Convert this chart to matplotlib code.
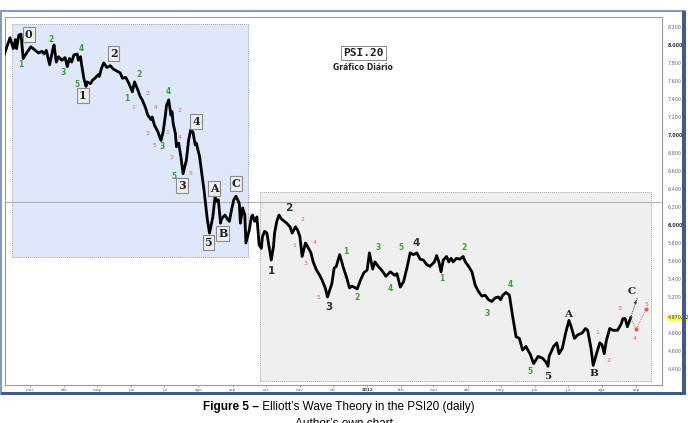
import matplotlib
matplotlib.use("Agg")
import matplotlib.pyplot as plt
import matplotlib.dates as mdates
from matplotlib.patches import Rectangle
import numpy as np
import pandas as pd

# PSI20 fecho diario
dates = [
    "2011-02-06", "2011-02-11", "2011-02-14", "2011-02-16", "2011-02-17", "2011-02-19", "2011-02-21", "2011-02-23", "2011-02-26", "2011-03-02",
    "2011-03-06", "2011-03-09", "2011-03-12", "2011-03-14", "2011-03-16", "2011-03-19", "2011-03-22", "2011-03-23", "2011-03-25", "2011-03-27",
    "2011-03-30", "2011-04-02", "2011-04-04", "2011-04-06", "2011-04-08", "2011-04-10", "2011-04-13", "2011-04-14", "2011-04-16", "2011-04-17",
    "2011-04-19", "2011-04-21", "2011-04-22", "2011-04-25", "2011-04-27", "2011-04-29", "2011-05-02", "2011-05-03", "2011-05-05", "2011-05-07",
    "2011-05-10", "2011-05-13", "2011-05-16", "2011-05-19", "2011-05-22", "2011-05-24", "2011-05-27", "2011-05-30", "2011-06-02", "2011-06-04",
    "2011-06-07", "2011-06-09", "2011-06-11", "2011-06-14", "2011-06-16", "2011-06-19", "2011-06-20", "2011-06-22", "2011-06-25", "2011-06-28",
    "2011-06-30", "2011-07-02", "2011-07-03", "2011-07-05", "2011-07-07", "2011-07-08", "2011-07-09", "2011-07-11", "2011-07-12", "2011-07-14",
    "2011-07-16", "2011-07-18", "2011-07-21", "2011-07-23", "2011-07-25", "2011-07-27", "2011-07-29", "2011-07-30", "2011-08-02", "2011-08-04",
    "2011-08-06", "2011-08-09", "2011-08-11", "2011-08-14", "2011-08-16", "2011-08-18", "2011-08-19", "2011-08-21", "2011-08-22", "2011-08-25",
    "2011-08-27", "2011-08-29", "2011-08-31", "2011-09-02", "2011-09-04", "2011-09-07", "2011-09-08", "2011-09-10", "2011-09-12", "2011-09-13",
    "2011-09-16", "2011-09-18", "2011-09-19", "2011-09-21", "2011-09-23", "2011-09-25", "2011-09-27", "2011-09-28", "2011-09-30", "2011-10-02",
    "2011-10-06", "2011-10-08", "2011-10-09", "2011-10-11", "2011-10-13", "2011-10-15", "2011-10-18", "2011-10-20", "2011-10-23", "2011-10-25",
    "2011-10-28", "2011-10-30", "2011-11-01", "2011-11-03", "2011-11-06", "2011-11-08", "2011-11-11", "2011-11-13", "2011-11-16", "2011-11-19",
    "2011-11-21", "2011-11-24", "2011-11-26", "2011-11-30", "2011-12-02", "2011-12-04", "2011-12-07", "2011-12-09", "2011-12-10", "2011-12-13",
    "2011-12-16", "2011-12-18", "2011-12-20", "2011-12-23", "2011-12-26", "2011-12-29", "2012-01-01", "2012-01-03", "2012-01-06", "2012-01-08",
    "2012-01-11", "2012-01-14", "2012-01-18", "2012-01-22", "2012-01-26", "2012-01-28", "2012-01-31", "2012-02-03", "2012-02-06", "2012-02-09",
    "2012-02-12", "2012-02-15", "2012-02-18", "2012-02-21", "2012-02-24", "2012-02-27", "2012-03-02", "2012-03-04", "2012-03-06", "2012-03-08",
    "2012-03-10", "2012-03-13", "2012-03-15", "2012-03-17", "2012-03-19", "2012-03-22", "2012-03-25", "2012-03-28", "2012-03-30", "2012-04-02",
    "2012-04-05", "2012-04-08", "2012-04-11", "2012-04-14", "2012-04-17", "2012-04-20", "2012-04-23", "2012-04-26", "2012-04-29", "2012-05-01",
    "2012-05-03", "2012-05-06", "2012-05-09", "2012-05-12", "2012-05-15", "2012-05-18", "2012-05-21", "2012-05-24", "2012-05-28", "2012-05-31",
    "2012-06-04", "2012-06-08", "2012-06-11", "2012-06-13", "2012-06-14", "2012-06-18", "2012-06-21", "2012-06-23", "2012-06-26", "2012-06-29",
    "2012-07-02", "2012-07-04", "2012-07-07", "2012-07-10", "2012-07-14", "2012-07-17", "2012-07-19", "2012-07-22", "2012-07-24", "2012-07-27",
    "2012-07-30", "2012-08-01", "2012-08-03", "2012-08-05", "2012-08-08", "2012-08-11", "2012-08-15", "2012-08-18", "2012-08-20", "2012-08-22",
    "2012-08-24", "2012-08-27",
]
closes = [
    7900, 8080, 7960, 8060, 7960, 8110, 8120, 7850, 7910, 7980,
    7940, 7910, 7930, 7900, 7940, 7780, 7960, 8000, 7810, 7870,
    7830, 7860, 7760, 7850, 7810, 7890, 7900, 7830, 7870, 7780,
    7630, 7540, 7590, 7570, 7610, 7630, 7670, 7650, 7740, 7800,
    7750, 7770, 7730, 7710, 7690, 7630, 7640, 7570, 7480, 7590,
    7500, 7430, 7390, 7300, 7220, 7170, 7200, 7110, 7040, 6940,
    7040, 7220, 7330, 7390, 7220, 7260, 7130, 7020, 6870, 6910,
    6760, 6570, 6720, 6940, 7060, 7030, 6890, 6910, 6760, 6570,
    6390, 6060, 5910, 6090, 6310, 6260, 6280, 6020, 6070, 6110,
    6070, 6040, 6170, 6280, 6320, 6240, 6020, 6190, 6110, 5800,
    5940, 6090, 6110, 6040, 6090, 5780, 5740, 5870, 5930, 5910,
    5610, 5760, 5910, 6040, 6110, 6070, 6040, 6020, 5980, 5910,
    5980, 5940, 5870, 5650, 5800, 5760, 5690, 5590, 5500, 5440,
    5390, 5300, 5200, 5350, 5520, 5540, 5670, 5590, 5540, 5430,
    5300, 5320, 5310, 5290, 5390, 5470, 5500, 5690, 5510, 5590,
    5540, 5500, 5430, 5480, 5440, 5460, 5310, 5370, 5520, 5690,
    5670, 5690, 5620, 5610, 5560, 5540, 5590, 5660, 5590, 5480,
    5610, 5650, 5590, 5630, 5590, 5630, 5620, 5650, 5590, 5540,
    5480, 5330, 5260, 5210, 5220, 5170, 5150, 5190, 5200, 5170,
    5220, 5250, 5220, 4980, 4760, 4740, 4610, 4650, 4560, 4460,
    4540, 4520, 4480, 4430, 4540, 4650, 4690, 4570, 4630, 4800,
    4940, 4870, 4740, 4780, 4800, 4850, 4830, 4630, 4440, 4570,
    4690, 4670, 4570, 4720, 4850, 4830, 4830, 4890, 4960, 4960,
    4870, 4970,
]

# cenarios projectados no fim
proj_c_dates = ["2012-08-27", "2012-09-02"]
proj_c_vals = [4970, 5190]
proj_alt_dates = ["2012-08-27", "2012-09-01", "2012-09-10"]
proj_alt_vals = [4970, 4840, 5070]

month_labels = ["mar", "abr", "may", "jun", "jul", "ago", "sep", "oct", "nov", "dic",
                "2012", "feb", "mar", "abr", "may", "jun", "jul", "ago", "sep"]
yticks = list(range(4400, 8201, 200))
last_label = "4.970,52"
last_value = 4970
cross_level = 6255

# ondas de grau maior (com caixa)
waves_box = [("0", "2011-02-28", 8120), ("1", "2011-04-18", 7440), ("2", "2011-05-16", 7900),
             ("3", "2011-07-17", 6440), ("4", "2011-07-30", 7150), ("5", "2011-08-10", 5800),
             ("A", "2011-08-15", 6410), ("B", "2011-08-23", 5910), ("C", "2011-09-04", 6460)]
# ondas principais na segunda zona
waves_main = [("1", "2011-10-06", 5490), ("2", "2011-10-22", 6190), ("3", "2011-11-27", 5090),
              ("4", "2012-02-14", 5800)]
waves_main_serif = [("5", "2012-06-13", 4320), ("A", "2012-07-01", 5010), ("B", "2012-07-25", 4350),
                    ("C", "2012-08-28", 5260)]
waves_green = [("1", "2011-02-21", 7780), ("2", "2011-03-20", 8060), ("3", "2011-03-31", 7690),
               ("4", "2011-04-17", 7960), ("5", "2011-04-13", 7560), ("1", "2011-05-28", 7410),
               ("2", "2011-06-08", 7670), ("3", "2011-06-29", 6870), ("4", "2011-07-05", 7480),
               ("5", "2011-07-10", 6540),
               ("1", "2011-12-13", 5710), ("2", "2011-12-23", 5190), ("3", "2012-01-11", 5750),
               ("4", "2012-01-22", 5290), ("5", "2012-02-01", 5750), ("1", "2012-03-09", 5400),
               ("2", "2012-03-29", 5750), ("3", "2012-04-19", 5020), ("4", "2012-05-10", 5340),
               ("5", "2012-05-28", 4370)]
waves_red = [("1", "2011-06-03", 7300), ("2", "2011-06-16", 7460), ("3", "2011-06-16", 7020),
             ("4", "2011-06-23", 7310), ("5", "2011-06-22", 6880), ("1", "2011-07-04", 7030),
             ("2", "2011-07-15", 7270), ("3", "2011-07-07", 6750), ("4", "2011-07-15", 6970),
             ("5", "2011-07-25", 6570),
             ("1", "2011-10-27", 5770), ("2", "2011-11-03", 6060), ("3", "2011-11-06", 5570),
             ("4", "2011-11-14", 5800), ("5", "2011-11-18", 5190),
             ("1", "2012-07-28", 4800), ("2", "2012-08-07", 4490), ("3", "2012-08-17", 5070),
             ("4", "2012-08-31", 4740), ("5", "2012-09-10", 5120)]

# zonas de contagem
zone1 = ("2011-02-13", "2011-09-15", 5640, 8230)
zone2 = ("2011-09-26", "2012-09-14", 4270, 6370)


def dn(s):
    return mdates.date2num(pd.Timestamp(s))


W, H = 688, 423
fig = plt.figure(figsize=(W / 100, H / 100), dpi=100)
fig.patch.set_facecolor("white")

# moldura azul da janela
fig.add_artist(Rectangle((1 / W, 1 - 394 / H), 684 / W, 383 / H, transform=fig.transFigure,
                         fill=False, ec="#6a86bb", lw=1.2))
fig.add_artist(Rectangle((682 / W, 1 - 394 / H), 4 / W, 383 / H, transform=fig.transFigure,
                         fc="#3f5a8e", ec="none"))
fig.add_artist(Rectangle((1 / W, 1 - 395 / H), 685 / W, 3 / H, transform=fig.transFigure,
                         fc="#3f5a8e", ec="none"))

ax = fig.add_axes([5 / W, 1 - 385 / H, 657 / W, 368 / H])
ax.set_facecolor("white")

x = pd.to_datetime(dates)
start = pd.Timestamp("2011-03-01")
ax.set_xlim(dn(start - pd.Timedelta(days=22.5)), dn(start + pd.Timedelta(days=573.4)))
ax.set_ylim(4222, 8311)

for (d0, d1, v0, v1), col in [(zone1, "#dfe7fb"), (zone2, "#efefef")]:
    ax.add_patch(Rectangle((dn(d0), v0), dn(d1) - dn(d0), v1 - v0, fc=col, ec="#a0a0a0",
                           lw=0.7, ls=(0, (1, 1)), zorder=0.5))

ax.axhline(cross_level, color="#b0b0b0", lw=0.8, zorder=1)

ax.plot(x, closes, color="black", lw=2.0, zorder=3, solid_joinstyle="round")
ax.plot(pd.to_datetime(proj_c_dates), proj_c_vals, color="#333333", lw=0.7, ls=(0, (1, 1)), zorder=3)
ax.annotate("", xy=(dn(proj_c_dates[1]), proj_c_vals[1]),
            xytext=(dn(proj_c_dates[0]) + 4, proj_c_vals[0] + 160),
            arrowprops=dict(arrowstyle="-|>", color="#333333", lw=0.5, mutation_scale=4))
ax.plot(pd.to_datetime(proj_alt_dates), proj_alt_vals, color="#e05a5a", lw=0.7, ls=(0, (1, 1)), zorder=3)
ax.plot(pd.to_datetime(proj_alt_dates[1:]), proj_alt_vals[1:], "o", color="#e05a5a", ms=2, zorder=3)

# rotulos das ondas
for s, d, v in waves_box:
    ax.text(dn(d), v, s, ha="center", va="center", fontsize=8, fontweight="bold",
            family="DejaVu Serif", color="#222222", zorder=5,
            bbox=dict(boxstyle="square,pad=0.18", fc="#eeeeee", ec="#8a8a8a", lw=0.8))
for s, d, v in waves_main:
    ax.text(dn(d), v, s, ha="center", va="center", fontsize=7.5, fontweight="bold",
            color="#333333", zorder=5)
for s, d, v in waves_main_serif:
    ax.text(dn(d), v, s, ha="center", va="center", fontsize=7.5, fontweight="bold",
            family="DejaVu Serif", color="#222222", zorder=5)
for s, d, v in waves_green:
    ax.text(dn(d), v, s, ha="center", va="center", fontsize=5.5, fontweight="bold",
            color="#3c9c3c", zorder=5)
for s, d, v in waves_red:
    ax.text(dn(d), v, s, ha="center", va="center", fontsize=4.3, color="#e05a5a", zorder=5)

ax.text(0.545, 0.902, "PSI.20", transform=ax.transAxes, ha="center", va="center", fontsize=8,
        fontweight="bold", family="DejaVu Sans Mono", color="#222222",
        bbox=dict(boxstyle="square,pad=0.2", fc="white", ec="#888888", lw=0.7))
ax.text(0.545, 0.864, "Gráfico Diário", transform=ax.transAxes, ha="center", va="center",
        fontsize=5.5, fontweight="bold", color="#222222")

# eixos
for sp in ax.spines.values():
    sp.set_color("#999999")
    sp.set_linewidth(0.8)

ax.set_xticks(pd.date_range("2011-03-01", "2012-09-01", freq="MS"))
ax.set_xticklabels(month_labels)
ax.tick_params(axis="x", length=1.5, width=0.5, color="#888888", labelsize=3, labelcolor="#666666", pad=1)
for t in ax.get_xticklabels():
    if t.get_text() == "2012":
        t.set_fontweight("bold")
        t.set_color("#333333")

# o rotulo do ultimo fecho ocupa o lugar do 5.000
ax.yaxis.tick_right()
ax.set_yticks(yticks)
ax.set_yticklabels(["" if v == 5000 else f"{v:,}".replace(",", ".") for v in yticks])
ax.tick_params(axis="y", length=0, labelsize=3.5, labelcolor="#666666", pad=4)
for t, v in zip(ax.get_yticklabels(), yticks):
    if v % 1000 == 0:
        t.set_fontweight("bold")
        t.set_color("#333333")

ax.annotate(last_label, xy=(1, last_value), xycoords=("axes fraction", "data"),
            xytext=(4, 0), textcoords="offset points", ha="left", va="center",
            fontsize=3.5, color="#333333", zorder=6,
            bbox=dict(boxstyle="square,pad=0.1", fc="#ffff55", ec="none"))

# legenda da figura
fig.text(259 / W, 1 - 407 / H, "Figure 5 –", ha="right", va="center", fontsize=8.5,
         fontweight="bold", family="Liberation Sans")
fig.text(259 / W, 1 - 407 / H, " Elliott’s Wave Theory in the PSI20 (daily)", ha="left",
         va="center", fontsize=8.5, family="Liberation Sans")
fig.text(0.5, 1 - 424 / H, "Author’s own chart", ha="center", va="center", fontsize=8.5,
         family="Liberation Sans")

fig.savefig("out.png", dpi=100)
